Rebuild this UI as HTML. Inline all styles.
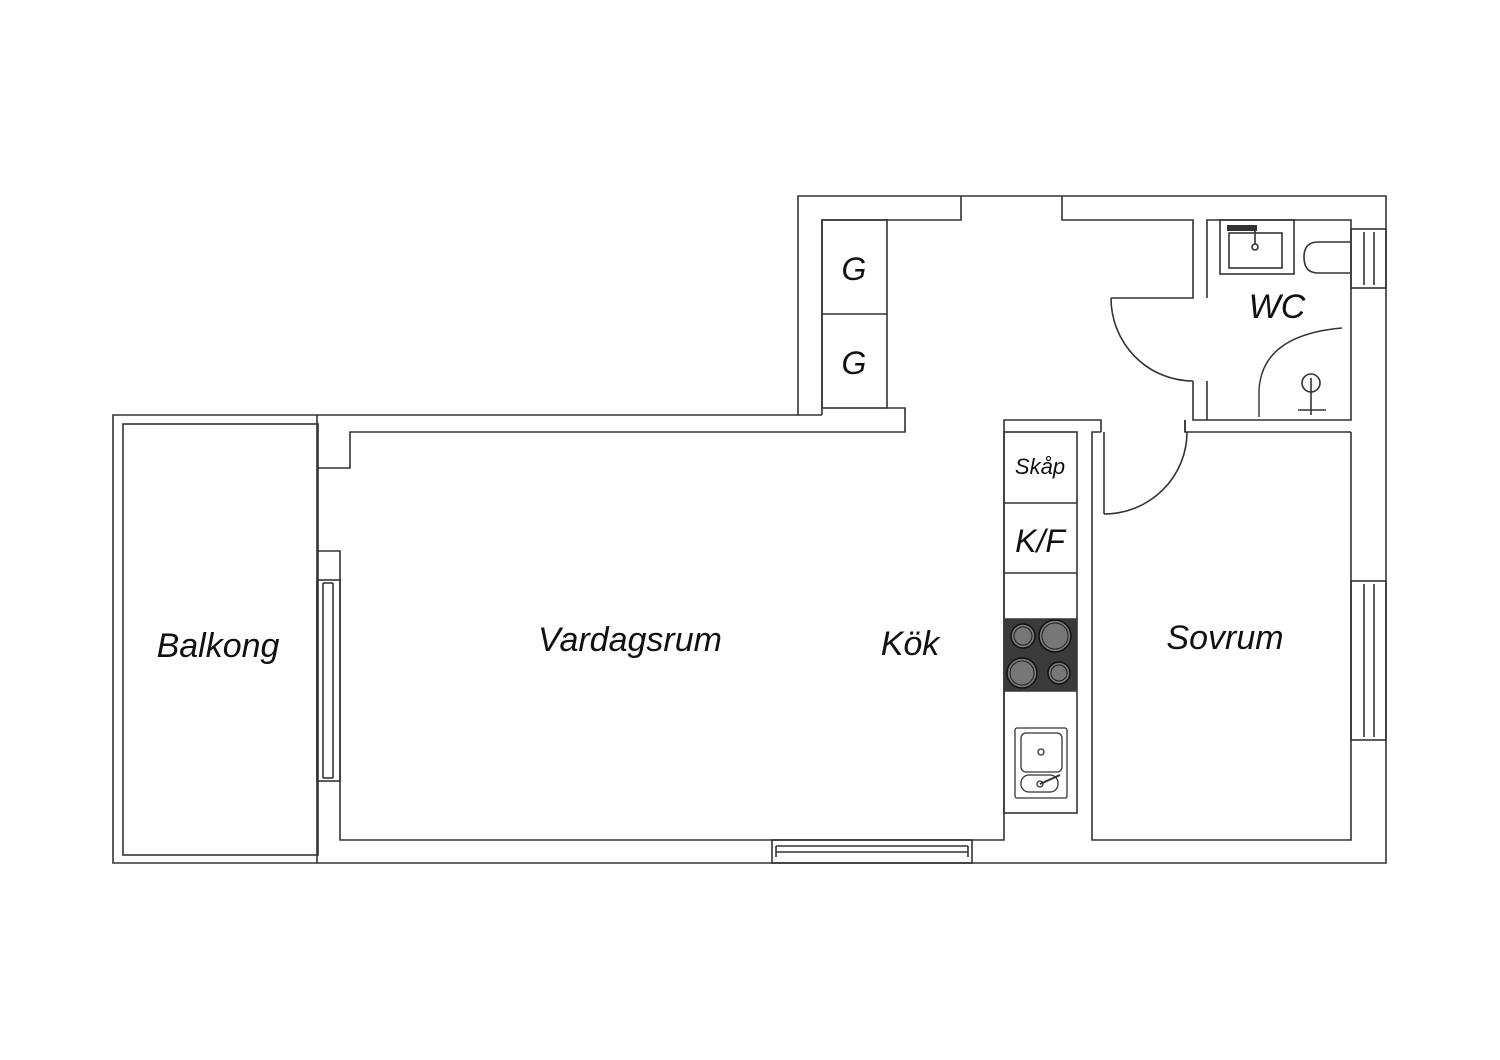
<!DOCTYPE html>
<html><head><meta charset="utf-8"><style>
html,body{margin:0;padding:0;background:#fff}
svg{display:block}
text{font-family:"Liberation Sans",sans-serif;font-style:italic;fill:#111}
</style></head><body>
<svg width="1500" height="1060" viewBox="0 0 1500 1060" xmlns="http://www.w3.org/2000/svg">
<g fill="none" stroke="#333" stroke-width="1.6">
<polygon points="113,415 113,863 1386,863 1386,196 798,196 798,415" fill="#fff"/>
<rect x="123" y="424" width="195" height="431"/>
<line x1="317" y1="415" x2="317" y2="863"/>
<polyline points="317,468 350,468 350,432 905,432 905,408 887,408"/>
<line x1="798" y1="415" x2="822" y2="415"/>
<polyline points="822,415 822,408"/>
<polyline points="822,408 822,220 961,220 961,196"/>
<polyline points="1062,196 1062,220 1193,220 1193,298 1111,298"/>
<path d="M1111,298 A82,83 0 0 0 1193,381"/>
<polyline points="1193,381 1193,420 1207,420 1207,381"/>
<polyline points="1207,298 1207,220 1351,220 1351,420 1207,420"/>
<polyline points="1185,420 1185,432 1351,432"/>
<rect x="822" y="220" width="65" height="188"/>
<line x1="822" y1="314" x2="887" y2="314"/>
<polyline points="317,551 340,551 340,840 1004,840 1004,420 1101,420 1101,432"/>
<rect x="317" y="580" width="23" height="201"/>
<line x1="323" y1="583" x2="323" y2="778"/><line x1="333" y1="583" x2="333" y2="778"/>
<line x1="323" y1="583" x2="333" y2="583"/><line x1="323" y1="778" x2="333" y2="778"/>
<rect x="772" y="840" width="200" height="23"/>
<line x1="776" y1="846" x2="968" y2="846"/><line x1="776" y1="852" x2="968" y2="852"/>
<line x1="776" y1="846" x2="776" y2="857"/><line x1="968" y1="846" x2="968" y2="857"/>
<rect x="1004" y="432" width="73" height="381"/>
<line x1="1004" y1="503" x2="1077" y2="503"/>
<line x1="1004" y1="573" x2="1077" y2="573"/>
<line x1="1004" y1="619" x2="1077" y2="619"/>
<line x1="1004" y1="691" x2="1077" y2="691"/>
<polyline points="1101,432 1092,432 1092,840 1351,840 1351,432"/>
<line x1="1104" y1="432" x2="1104" y2="514"/>
<path d="M1104,514 A83,82 0 0 0 1187,432"/>
<line x1="1185" y1="420" x2="1185" y2="432"/>
<rect x="1351" y="229" width="35" height="59"/>
<line x1="1364" y1="232" x2="1364" y2="285"/><line x1="1374" y1="232" x2="1374" y2="285"/>
<rect x="1351" y="581" width="35" height="159"/>
<line x1="1364" y1="584" x2="1364" y2="737"/><line x1="1374" y1="584" x2="1374" y2="737"/>
<rect x="1220" y="220" width="74" height="54"/>
<rect x="1229" y="233" width="53" height="35"/>
<line x1="1255" y1="228" x2="1255" y2="244"/><circle cx="1255" cy="247" r="3"/>
<path d="M1350,242 L1318,242 Q1304,242 1304,257 Q1304,273 1318,273 L1350,273"/>
<path d="M1259,417 L1259,390 Q1262,335 1342,328" stroke-width="1.4"/>
<circle cx="1311" cy="383" r="9"/>
<line x1="1311" y1="378" x2="1311" y2="415"/>
<line x1="1298" y1="410" x2="1326" y2="410"/>
</g>
<rect x="1227" y="225" width="30" height="6" fill="#333"/>
<rect x="1004" y="619" width="73" height="72" fill="#3a3a3a"/>
<g fill="#777" stroke="#111" stroke-width="1.5">
<circle cx="1023" cy="636" r="12"/><circle cx="1055" cy="636" r="16"/>
<circle cx="1022" cy="673" r="15"/><circle cx="1059" cy="673" r="11"/>
</g>
<g fill="none" stroke="#222" stroke-width="1">
<circle cx="1023" cy="636" r="9"/><circle cx="1055" cy="636" r="13"/>
<circle cx="1022" cy="673" r="12"/><circle cx="1059" cy="673" r="8"/>
</g>
<g fill="none" stroke="#333" stroke-width="1.3">
<rect x="1015" y="728" width="52" height="70" rx="2"/>
<rect x="1021" y="733" width="41" height="39" rx="5"/>
<rect x="1021" y="775" width="37" height="17" rx="8"/>
<circle cx="1041" cy="752" r="3"/><circle cx="1040" cy="784" r="3"/>
<line x1="1040" y1="784" x2="1060" y2="775" stroke-width="2"/>
</g>
<text x="218" y="657" font-size="34" text-anchor="middle">Balkong</text>
<text x="630" y="651" font-size="34" text-anchor="middle">Vardagsrum</text>
<text x="910" y="655" font-size="34" text-anchor="middle">Kök</text>
<text x="1225" y="649" font-size="34" text-anchor="middle">Sovrum</text>
<text x="1277" y="318" font-size="34" text-anchor="middle">WC</text>
<text x="854" y="280" font-size="32" text-anchor="middle">G</text>
<text x="854" y="374" font-size="32" text-anchor="middle">G</text>
<text x="1040" y="474" font-size="22" text-anchor="middle">Skåp</text>
<text x="1040" y="552" font-size="32" text-anchor="middle">K/F</text>
</svg>
</body></html>
